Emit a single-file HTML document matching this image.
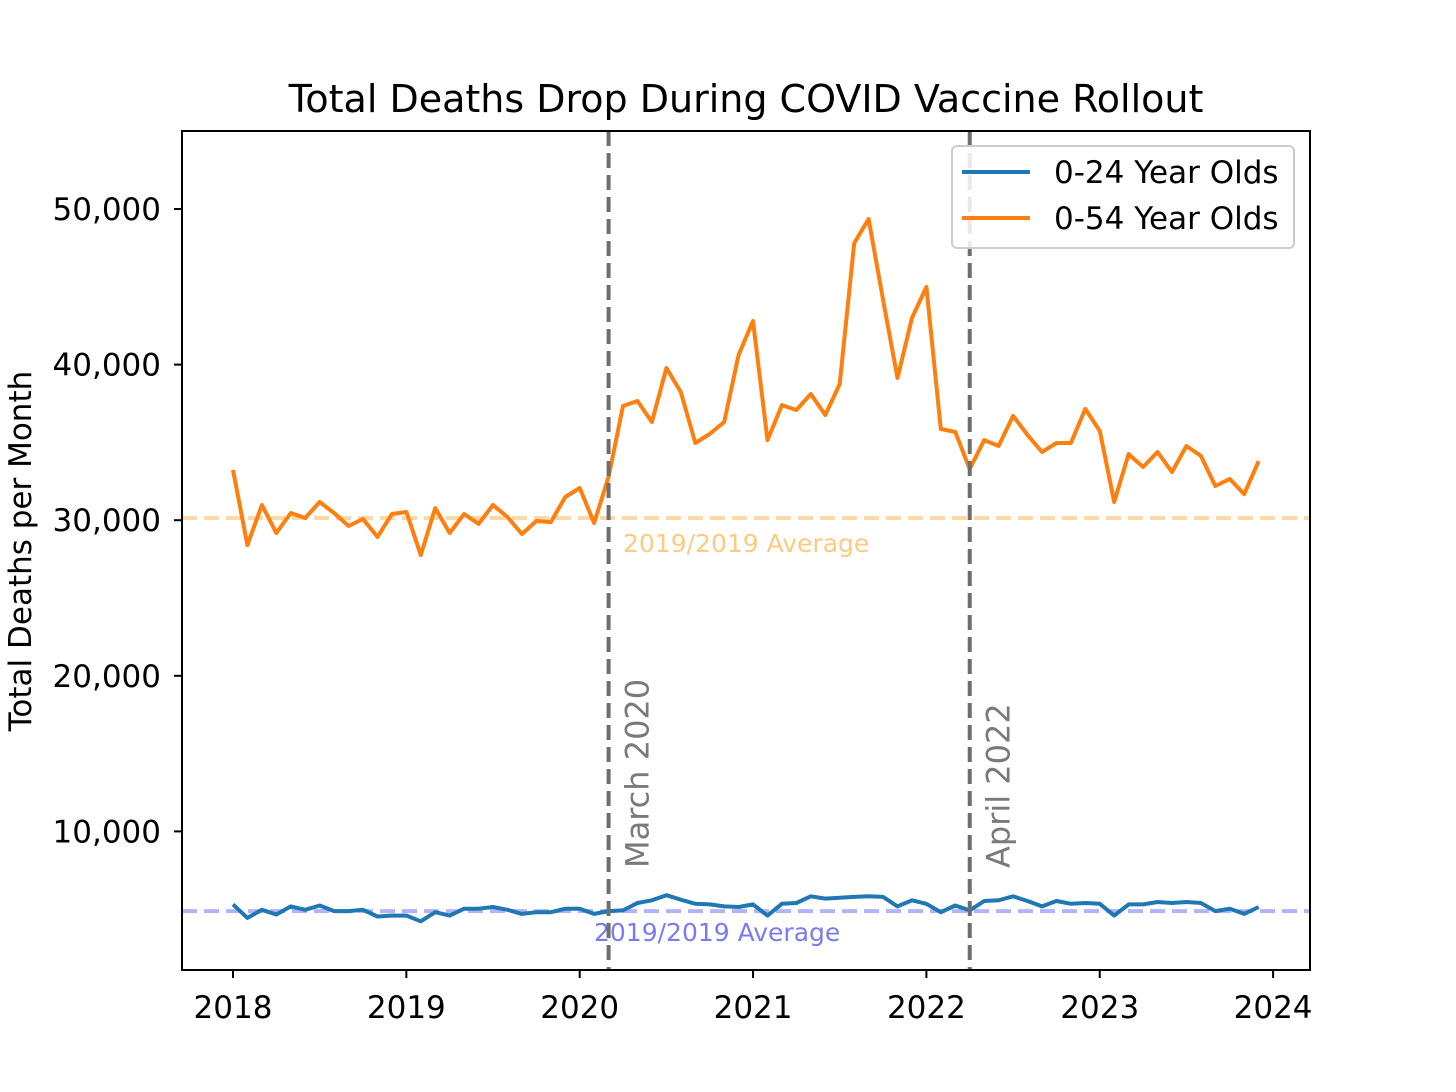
<!DOCTYPE html>
<html><head><meta charset="utf-8"><style>
body{margin:0;background:#fff}
svg{display:block;font-family:"DejaVu Sans","Liberation Sans",sans-serif}
</style></head><body>
<svg id="chart" width="1456" height="1092" viewBox="0 0 1456 1092">
<text x="746" y="112" font-size="38" text-anchor="middle">Total Deaths Drop During COVID Vaccine Rollout</text>
<g id="plot"></g>
</svg>
<script>
const yearTicks = [2018, 2019, 2020, 2021, 2022, 2023, 2024];
const valueTicks = [10000, 20000, 30000, 40000, 50000];
const series0to54 = [33230,28400,30980,29180,30460,30140,31170,30460,29630,30080,28920,30400,
30530,27760,30780,29180,30400,29760,30980,30200,29110,29950,29880,31490,
32070,29820,32780,37340,37660,36310,39780,38240,34960,35540,36310,40620,
42800,35150,37400,37080,38110,36760,38750,47810,49360,44150,39140,43000,
44990,35860,35670,33290,35150,34770,36700,35480,34380,34960,34960,37150,
35730,31170,34250,33420,34380,33100,34770,34130,32200,32650,31680,33800];
const series0to24 = [5310,4440,4960,4660,5180,4960,5240,4880,4880,4960,4530,4590,
4590,4220,4810,4590,5030,5030,5140,4960,4700,4810,4810,5030,
5030,4700,4880,4920,5400,5570,5900,5610,5350,5310,5180,5140,
5310,4590,5350,5400,5830,5680,5740,5790,5830,5790,5180,5570,
5350,4810,5240,4920,5530,5570,5830,5530,5180,5530,5350,5400,
5350,4590,5310,5310,5460,5400,5460,5400,4880,5030,4700,5140];
const avg0to54 = 30140;
const avg0to24 = 4880;
const markers = [{t: 2020 + 2/12, label: "March 2020"}, {t: 2022 + 3/12, label: "April 2022"}];

const L=182,R=1310,T=131,B=970;
const X = t => 233 + (t-2018)*173.35;
const Y = v => 987 - v*0.01556;
const NS="http://www.w3.org/2000/svg";
const g=document.getElementById('plot');
function mk(tag,attrs,parent){const e=document.createElementNS(NS,tag);for(const k in attrs)e.setAttribute(k,attrs[k]);(parent||g).appendChild(e);return e;}

let a1=mk('line',{x1:L,x2:R,y1:Y(avg0to54),y2:Y(avg0to54),stroke:'#fdd9a6','stroke-width':4,'stroke-dasharray':'15 7'});


let a2=mk('line',{x1:L,x2:R,y1:Y(avg0to24),y2:Y(avg0to24),stroke:'#b3b3f7','stroke-width':4,'stroke-dasharray':'15 7'});



function path(arr){return arr.map((v,i)=>(i?'L':'M')+X(2018+i/12).toFixed(1)+' '+Y(v).toFixed(1)).join(' ');}
let p1=mk('path',{d:path(series0to24),fill:'none',stroke:'#1f77b4','stroke-width':4,'stroke-linejoin':'round'});


let p2=mk('path',{d:path(series0to54),fill:'none',stroke:'#ff7f0e','stroke-width':4,'stroke-linejoin':'round'});



let t1=mk('text',{x:623,y:552,'font-size':25,fill:'#fdcb7f'});t1.textContent='2019/2019 Average';


let t2=mk('text',{x:594,y:941,'font-size':25,fill:'#7a7af2'});t2.textContent='2019/2019 Average';



markers.forEach(m=>{
  const x=X(m.t);
  let l=mk('line',{x1:x,x2:x,y1:T,y2:B,stroke:'#6e6e6e','stroke-width':4,'stroke-dasharray':'15 7'});
  
  
  let t=mk('text',{x:0,y:0,'font-size':32,fill:'#7a7a7a',transform:`translate(${x+40},868) rotate(-90)`});
  t.textContent=m.label;
  
  
});

let fr=mk('rect',{x:L,y:T,width:R-L,height:B-T,fill:'none',stroke:'#000','stroke-width':2});



yearTicks.forEach(yr=>{
  const x=X(yr);
  mk('line',{x1:x,x2:x,y1:B,y2:B+8,stroke:'#000','stroke-width':2});
  let t=mk('text',{x:x,y:1018,'font-size':31,'text-anchor':'middle'});t.textContent=yr;
  
  
});
valueTicks.forEach(v=>{
  const y=Y(v);
  mk('line',{x1:L-8,x2:L,y1:y,y2:y,stroke:'#000','stroke-width':2});
  let t=mk('text',{x:L-21,y:y+11,'font-size':31,'text-anchor':'end'});t.textContent=v.toLocaleString('en-US');
  
  
});
let yl=mk('text',{x:0,y:0,'font-size':31,'text-anchor':'middle',transform:'translate(31,551) rotate(-90)'});
yl.textContent='Total Deaths per Month';



let lg=mk('g',{});


mk('rect',{x:952,y:146,width:342,height:102,rx:5,fill:'rgba(255,255,255,0.85)',stroke:'#cccccc','stroke-width':2},lg);
[['0-24 Year Olds','#1f77b4',172],['0-54 Year Olds','#ff7f0e',218]].forEach(([lab,c,y])=>{
  let e=mk('g',{},lg);
  
  
  mk('line',{x1:962,x2:1030,y1:y,y2:y,stroke:c,'stroke-width':4},e);
  let t=mk('text',{x:1054,y:y+11,'font-size':31},e);t.textContent=lab;
});
</script>
</body></html>
